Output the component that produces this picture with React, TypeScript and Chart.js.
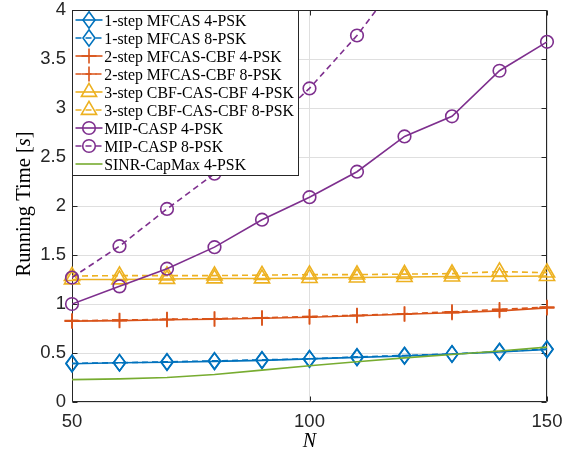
import React, { useEffect, useRef } from 'react';
import { Chart, registerables } from 'chart.js';

Chart.register(...registerables);

// ---------------- data ----------------
const N_VALUES = [50, 60, 70, 80, 90, 100, 110, 120, 130, 140, 150];

const MFCAS_4PSK = [0.39, 0.40, 0.405, 0.415, 0.425, 0.44, 0.455, 0.47, 0.49, 0.51, 0.535];
const MFCAS_8PSK = [0.395, 0.40, 0.41, 0.42, 0.43, 0.44, 0.46, 0.475, 0.49, 0.515, 0.54];
const CBF_4PSK = [0.825, 0.83, 0.84, 0.845, 0.855, 0.865, 0.88, 0.895, 0.91, 0.93, 0.96];
const CBF_8PSK = [0.83, 0.835, 0.845, 0.85, 0.86, 0.872, 0.885, 0.9, 0.92, 0.945, 0.968];
const CAS_4PSK = [1.25, 1.25, 1.255, 1.26, 1.26, 1.265, 1.27, 1.275, 1.28, 1.28, 1.285];
const CAS_8PSK = [1.285, 1.29, 1.29, 1.29, 1.295, 1.30, 1.30, 1.305, 1.31, 1.33, 1.32];
const MIP_4PSK = [1.0, 1.18, 1.36, 1.58, 1.86, 2.09, 2.35, 2.71, 2.915, 3.38, 3.675];
const MIP_8PSK = [1.27, 1.59, 1.97, 2.33, 2.75, 3.2, 3.74, 4.38, 5.1, 5.8, 6.6];
const SINR_4PSK = [0.228, 0.236, 0.25, 0.28, 0.325, 0.37, 0.41, 0.45, 0.485, 0.52, 0.56];

const LABELS = [
  '1-step MFCAS 4-PSK',
  '1-step MFCAS 8-PSK',
  '2-step MFCAS-CBF 4-PSK',
  '2-step MFCAS-CBF 8-PSK',
  '3-step CBF-CAS-CBF 4-PSK',
  '3-step CBF-CAS-CBF 8-PSK',
  'MIP-CASP 4-PSK',
  'MIP-CASP 8-PSK',
  'SINR-CapMax 4-PSK',
];

const X_MIN = 50;
const X_MAX = 150;
const X_STEP = 50;
const Y_MIN = 0;
const Y_MAX = 4;
const Y_STEP = 0.5;

const X_TITLE = 'N';
const Y_TITLE_PARTS = ['Running Time [', 's', ']'];

// ---------------- styles ----------------
const BLUE = '#0072BD';
const ORANGE = '#D95319';
const YELLOW = '#EDB120';
const PURPLE = '#7E2F8E';
const GREEN = '#77AC30';
const AXIS = '#262626';
const GRID = '#dfdfdf';

type Marker = 'diamond' | 'plus' | 'triangle' | 'circle' | null;
interface Series {
  label: string;
  data: number[];
  color: string;
  dashed: boolean;
  marker: Marker;
}

const SERIES: Series[] = [
  { label: LABELS[0], data: MFCAS_4PSK, color: BLUE, dashed: false, marker: 'diamond' },
  { label: LABELS[1], data: MFCAS_8PSK, color: BLUE, dashed: true, marker: 'diamond' },
  { label: LABELS[2], data: CBF_4PSK, color: ORANGE, dashed: false, marker: 'plus' },
  { label: LABELS[3], data: CBF_8PSK, color: ORANGE, dashed: true, marker: 'plus' },
  { label: LABELS[4], data: CAS_4PSK, color: YELLOW, dashed: false, marker: 'triangle' },
  { label: LABELS[5], data: CAS_8PSK, color: YELLOW, dashed: true, marker: 'triangle' },
  { label: LABELS[6], data: MIP_4PSK, color: PURPLE, dashed: false, marker: 'circle' },
  { label: LABELS[7], data: MIP_8PSK, color: PURPLE, dashed: true, marker: 'circle' },
  { label: LABELS[8], data: SINR_4PSK, color: GREEN, dashed: false, marker: null },
];

const DASH = [6, 4];
const LINE_W = 1.6;
const TICK_FONT = { family: 'Liberation Sans, Arial, sans-serif', size: 18.5 };

function drawMarker(ctx: CanvasRenderingContext2D, kind: Marker, x: number, y: number, color: string) {
  if (!kind) return;
  ctx.save();
  ctx.strokeStyle = color;
  ctx.lineWidth = LINE_W;
  ctx.setLineDash([]);
  ctx.beginPath();
  if (kind === 'diamond') {
    ctx.moveTo(x, y - 8.2);
    ctx.lineTo(x + 6, y);
    ctx.lineTo(x, y + 8.2);
    ctx.lineTo(x - 6, y);
    ctx.closePath();
  } else if (kind === 'plus') {
    ctx.moveTo(x - 7.5, y);
    ctx.lineTo(x + 7.5, y);
    ctx.moveTo(x, y - 7.5);
    ctx.lineTo(x, y + 7.5);
  } else if (kind === 'triangle') {
    ctx.moveTo(x, y - 8.7);
    ctx.lineTo(x + 7.6, y + 4.4);
    ctx.lineTo(x - 7.6, y + 4.4);
    ctx.closePath();
  } else if (kind === 'circle') {
    ctx.arc(x, y, 6.3, 0, Math.PI * 2);
  }
  ctx.stroke();
  ctx.restore();
}

export default function App() {
  const ref = useRef<HTMLCanvasElement>(null);

  useEffect(() => {
    const canvas = ref.current;
    if (!canvas) return;

    const markerPlugin = {
      id: 'mMarkers',
      afterDatasetDraw(chart: any, args: any) {
        const s = SERIES[args.index];
        if (!s || !s.marker) return;
        const ctx = chart.ctx as CanvasRenderingContext2D;
        const area = chart.chartArea;
        for (const el of args.meta.data) {
          if (el.skip) continue;
          if (el.y < area.top - 1 || el.y > area.bottom + 1) continue;
          drawMarker(ctx, s.marker, el.x, el.y, s.color);
        }
      },
    };

    const boxPlugin = {
      id: 'mBox',
      beforeDatasetsDraw(chart: any) {
        const ctx = chart.ctx as CanvasRenderingContext2D;
        const a = chart.chartArea;
        const L = Math.round(a.left) + 0.5;
        const R = Math.round(a.right) - 0.5;
        const T = Math.round(a.top) + 0.5;
        const B = Math.round(a.bottom) - 0.5;
        ctx.save();
        ctx.strokeStyle = AXIS;
        ctx.lineWidth = 1;
        ctx.setLineDash([]);
        ctx.beginPath();
        ctx.rect(L, T, R - L, B - T);
        const tl = 5;
        for (const t of chart.scales.y.ticks) {
          const py = Math.round(chart.scales.y.getPixelForValue(t.value)) + 0.5;
          ctx.moveTo(L, py);
          ctx.lineTo(L + tl, py);
          ctx.moveTo(R, py);
          ctx.lineTo(R - tl, py);
        }
        for (const t of chart.scales.x.ticks) {
          const px = Math.round(chart.scales.x.getPixelForValue(t.value)) + 0.5;
          ctx.moveTo(px, B);
          ctx.lineTo(px, B - tl);
          ctx.moveTo(px, T);
          ctx.lineTo(px, T + tl);
        }
        ctx.stroke();
        ctx.restore();
      },
      afterDraw(chart: any) {
        const ctx = chart.ctx as CanvasRenderingContext2D;
        const a = chart.chartArea;

        // legend
        const lx0 = Math.round(a.left) + 0.5;
        const ly0 = Math.round(a.top) + 0.5;
        const lx1 = 298.5;
        const ly1 = 175.5;
        ctx.save();
        ctx.fillStyle = '#ffffff';
        ctx.fillRect(lx0, ly0, lx1 - lx0, ly1 - ly0);
        ctx.strokeStyle = AXIS;
        ctx.lineWidth = 1;
        ctx.strokeRect(lx0, ly0, lx1 - lx0, ly1 - ly0);
        ctx.font = '15.8px "Liberation Serif"';
        ctx.textAlign = 'left';
        ctx.textBaseline = 'alphabetic';
        SERIES.forEach((s, i) => {
          const cy = 20 + i * 18;
          ctx.save();
          ctx.strokeStyle = s.color;
          ctx.lineWidth = LINE_W;
          ctx.setLineDash(s.dashed ? DASH : []);
          ctx.beginPath();
          ctx.moveTo(75.5, cy);
          ctx.lineTo(102.5, cy);
          ctx.stroke();
          ctx.restore();
          drawMarker(ctx, s.marker, 89, cy, s.color);
          ctx.fillStyle = '#000000';
          ctx.fillText(s.label, 104.3, cy + 5.6);
        });
        ctx.restore();

        // x title
        ctx.save();
        ctx.fillStyle = '#000000';
        ctx.font = 'italic 20px "Liberation Serif"';
        ctx.textAlign = 'center';
        ctx.textBaseline = 'alphabetic';
        ctx.fillText(X_TITLE, (a.left + a.right) / 2, 447);
        ctx.restore();

        // y title (with italic s)
        ctx.save();
        ctx.fillStyle = '#000000';
        const fN = '20.5px "Liberation Serif"';
        const fI = 'italic 20.5px "Liberation Serif"';
        const fonts = [fN, fI, fN];
        const widths = Y_TITLE_PARTS.map((p, i) => {
          ctx.font = fonts[i];
          return ctx.measureText(p).width;
        });
        const total = widths.reduce((u, v) => u + v, 0);
        const cyT = 204;
        ctx.translate(29.5, cyT);
        ctx.rotate(-Math.PI / 2);
        ctx.textAlign = 'left';
        ctx.textBaseline = 'alphabetic';
        let xx = -total / 2;
        Y_TITLE_PARTS.forEach((p, i) => {
          ctx.font = fonts[i];
          ctx.fillText(p, xx, 0);
          xx += widths[i];
        });
        ctx.restore();
      },
    };

    const chart = new Chart(canvas, {
      type: 'line',
      data: {
        datasets: SERIES.map((s, i) => ({
          label: s.label,
          data: N_VALUES.map((n, k) => ({ x: n, y: s.data[k] })),
          borderColor: s.color,
          backgroundColor: s.color,
          borderWidth: LINE_W,
          borderDash: s.dashed ? DASH : [],
          pointRadius: 0,
          pointHoverRadius: 0,
          fill: false,
          tension: 0,
          order: SERIES.length - i,
        })),
      },
      options: {
        animation: false,
        responsive: false,
        devicePixelRatio: 1,
        events: [],
        layout: { padding: { left: 0, top: 10, right: 32, bottom: 0 } },
        plugins: {
          legend: { display: false },
          tooltip: { enabled: false },
          title: { display: false },
        },
        scales: {
          x: {
            type: 'linear',
            min: X_MIN,
            max: X_MAX,
            border: { display: false },
            grid: { color: GRID, lineWidth: 1, drawTicks: false },
            ticks: {
              stepSize: X_STEP,
              color: AXIS,
              font: TICK_FONT,
              padding: 9,
              maxRotation: 0,
              autoSkip: false,
              callback: (v: any) => String(Number(v)),
            },
            afterFit: (scale: any) => {
              scale.height = 49;
              scale.paddingLeft = 0;
              scale.paddingRight = 0;
            },
          },
          y: {
            type: 'linear',
            min: Y_MIN,
            max: Y_MAX,
            border: { display: false },
            grid: { color: GRID, lineWidth: 1, drawTicks: false },
            ticks: {
              stepSize: Y_STEP,
              color: AXIS,
              font: TICK_FONT,
              padding: 6,
              autoSkip: false,
              callback: (v: any) => String(Number(v)),
            },
            afterFit: (scale: any) => {
              scale.width = 72;
              scale.paddingTop = 0;
              scale.paddingBottom = 0;
            },
          },
        },
      } as any,
      plugins: [markerPlugin, boxPlugin],
    });

    return () => {
      chart.destroy();
    };
  }, []);

  return (
    <div style={{ position: 'fixed', left: 0, top: 0, width: 579, height: 451, background: '#ffffff' }}>
      <canvas ref={ref} width={579} height={451} style={{ display: 'block' }} />
    </div>
  );
}
